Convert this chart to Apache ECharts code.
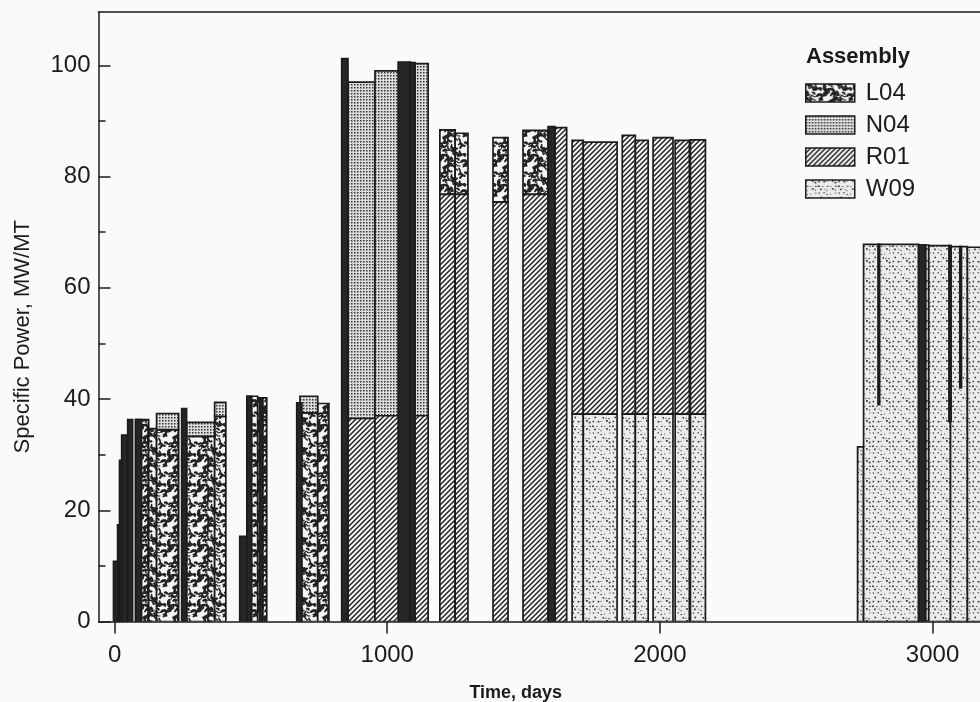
<!DOCTYPE html>
<html>
<head>
<meta charset="utf-8">
<script src="https://cdn.jsdelivr.net/npm/echarts@6/dist/echarts.min.js"></script>
<style>
html,body{margin:0;padding:0;background:#fafafa;}
#c{width:980px;height:702px;}
</style>
</head>
<body>
<div id="c"></div>
<script>
// ---- data: each block = [startDay, endDay, lowValue, highValue] ----
const assemblies = ['L04', 'N04', 'R01', 'W09'];
const xTicks = [0, 1000, 2000, 3000];
const yTicks = [0, 20, 40, 60, 80, 100];
const yMinorTicks = [10, 30, 50, 70, 90];

const L04 = [
  [77, 125, 0, 36.3], [125, 154, 0, 34.7], [154, 235, 0, 34.5],
  [264, 367, 0, 33.3], [367, 408, 0, 36.9], [485, 525, 0, 40.5],
  [525, 558, 0, 40.2], [680, 745, 0, 37.5], [745, 786, 0, 39.2],
  [1193, 1249, 76.8, 88.4], [1249, 1296, 76.8, 87.8], [1388, 1443, 75.4, 87.0],
  [1498, 1590, 76.8, 88.3]
];
const N04 = [
  [154, 235, 34.5, 37.4], [264, 367, 33.3, 35.8], [367, 408, 36.9, 39.4],
  [680, 745, 37.5, 40.5], [856, 955, 36.5, 97.0], [955, 1045, 37.0, 99.0],
  [1102, 1150, 37.0, 100.3]
];
const R01 = [
  [856, 955, 0, 36.5], [955, 1045, 0, 37.0], [1102, 1150, 0, 37.0],
  [1193, 1249, 0, 76.8], [1249, 1296, 0, 76.8], [1388, 1443, 0, 75.4],
  [1498, 1590, 0, 76.8], [1615, 1658, 0, 88.8],
  [1678, 1719, 37.3, 86.5], [1719, 1843, 37.3, 86.2], [1862, 1910, 37.3, 87.4],
  [1910, 1957, 37.3, 86.5], [1975, 2048, 37.3, 87.0], [2056, 2108, 37.3, 86.5],
  [2112, 2167, 37.3, 86.6]
];
const W09 = [
  [1678, 1719, 0, 37.3], [1719, 1843, 0, 37.3], [1862, 1910, 0, 37.3],
  [1910, 1957, 0, 37.3], [1975, 2048, 0, 37.3], [2056, 2108, 0, 37.3],
  [2112, 2167, 0, 37.3],
  [2725, 2747, 0, 31.4], [2747, 2949, 0, 67.8], [2949, 2986, 0, 67.7],
  [2986, 3066, 0, 67.6], [3066, 3128, 0, 67.4], [3128, 3180, 0, 67.3]
];
// short, dense operating intervals drawn as dark strips
const DARK = [
  [-4, 18, 0, 10.8], [11, 26, 0, 17.4], [18, 33, 0, 29.0], [26, 48, 0, 33.5],
  [48, 66, 0, 36.3], [77, 99, 0, 36.3], [246, 264, 0, 38.3], [459, 488, 0, 15.3],
  [485, 503, 0, 40.5], [532, 544, 0, 40.2], [668, 687, 0, 39.3],
  [833, 856, 0, 101.2], [1040, 1085, 0, 100.6], [1085, 1102, 0, 100.5],
  [1590, 1615, 0, 89.0], [2800, 2806, 39.0, 67.8], [2949, 2975, 0, 67.7],
  [3060, 3068, 36.0, 67.6], [3100, 3106, 42.0, 67.4]
];

// ---- fill textures ----
function hash(n) { const s = Math.sin(n * 127.1 + 311.7) * 43758.5453; return s - Math.floor(s); }
function tile(w, h, draw) {
  const c = document.createElement('canvas'); c.width = w; c.height = h;
  const g = c.getContext('2d'); draw(g, w, h); return c;
}
const texL04 = tile(30, 30, function (g, w) {
  g.fillStyle = '#f4f4f4'; g.fillRect(0, 0, w, w);
  g.strokeStyle = '#222'; g.lineCap = 'round';
  for (let i = 0; i < 55; i++) {
    const x = hash(i) * w, y = hash(i + 100) * w, a = hash(i + 200) * Math.PI * 2;
    const len = 2 + hash(i + 300) * 5, lw = 1.1 + hash(i + 400) * 1.5;
    g.lineWidth = lw;
    for (let dx = -w; dx <= w; dx += w) for (let dy = -w; dy <= w; dy += w) {
      g.beginPath(); g.moveTo(x + dx, y + dy);
      g.quadraticCurveTo(x + dx + Math.cos(a + 1) * len * 0.6, y + dy + Math.sin(a + 1) * len * 0.6,
        x + dx + Math.cos(a) * len, y + dy + Math.sin(a) * len);
      g.stroke();
    }
  }
});
const texN04 = tile(3, 3, function (g) {
  g.fillStyle = '#dcdcdc'; g.fillRect(0, 0, 3, 3);
  g.fillStyle = '#333'; g.fillRect(0, 0, 1.5, 1.5);
});
const texR01 = tile(5, 5, function (g) {
  g.fillStyle = '#f4f4f4'; g.fillRect(0, 0, 5, 5);
  g.strokeStyle = '#1e1e1e'; g.lineWidth = 1.4;
  [[0, 5, 5, 0], [-1, 1, 1, -1], [4, 6, 6, 4]].forEach(function (l) {
    g.beginPath(); g.moveTo(l[0], l[1]); g.lineTo(l[2], l[3]); g.stroke();
  });
});
const texW09 = tile(20, 20, function (g, w) {
  g.fillStyle = '#ebebeb'; g.fillRect(0, 0, w, w);
  g.fillStyle = '#2a2a2a';
  for (let i = 0; i < 24; i++) {
    const cx = (i % 5) * 4 + hash(i + 500) * 2.6, cy = Math.floor(i / 5) * 4 + hash(i + 600) * 2.6;
    const s = 0.9 + hash(i + 700) * 0.8;
    g.fillRect(cx % w, cy % w, s, s);
  }
});
function pat(c) { return { image: c, repeat: 'repeat' }; }
const fills = { L04: pat(texL04), N04: pat(texN04), R01: pat(texR01), W09: pat(texW09) };
const INK = '#1b1b1b';
const FONT = "'Liberation Sans', Arial, Helvetica, sans-serif";

function rectRenderer(fill) {
  return function (params, api) {
    const a = api.coord([api.value(0), api.value(3)]);
    const b = api.coord([api.value(1), api.value(2)]);
    return {
      type: 'rect',
      shape: { x: Math.min(a[0], b[0]), y: Math.min(a[1], b[1]), width: Math.abs(b[0] - a[0]), height: Math.abs(b[1] - a[1]) },
      style: { fill: fill, stroke: INK, lineWidth: 1.7 }
    };
  };
}
const seriesData = { L04: L04, N04: N04, R01: R01, W09: W09 };
const series = assemblies.map(function (name) {
  return {
    name: name, type: 'custom', xAxisIndex: 0, yAxisIndex: 0, clip: true,
    renderItem: rectRenderer(fills[name]),
    itemStyle: { color: fills[name], borderColor: INK, borderWidth: 1.5 },
    encode: { x: [0, 1], y: [2, 3] },
    data: seriesData[name]
  };
});
series.push({
  name: 'strips', type: 'custom', xAxisIndex: 0, yAxisIndex: 0, clip: true,
  renderItem: rectRenderer('#262626'),
  encode: { x: [0, 1], y: [2, 3] },
  data: DARK
});

const X_MIN = -59, X_MAX = 3174, Y_MAX = 109.6;
const plain = function (v) { return String(v); };
const chart = echarts.init(document.getElementById('c'), null, { renderer: 'canvas' });
chart.setOption({
  backgroundColor: '#fafafa',
  animation: false,
  textStyle: { fontFamily: FONT, color: INK },
  title: {
    text: 'Assembly', left: 806, top: 46, padding: 0,
    textStyle: { fontFamily: FONT, fontWeight: 'bold', fontSize: 22, color: INK }
  },
  legend: {
    data: assemblies.map(function (n) {
      return { name: n, icon: 'rect', itemStyle: { color: fills[n], borderColor: INK, borderWidth: 1.5 } };
    }),
    orient: 'vertical', left: 805, top: 81, padding: 0,
    itemWidth: 49, itemHeight: 18, itemGap: 8,
    textStyle: { fontFamily: FONT, fontSize: 24, color: INK, padding: [0, 0, 0, 6] },
    selectedMode: false
  },
  grid: [
    { left: 98.5, right: 0, top: 12, bottom: 80.5, outerBoundsMode: 'none', containLabel: false },
    { left: 98.5, right: 0, top: 12, bottom: 80.5, outerBoundsMode: 'none', containLabel: false }
  ],
  xAxis: [
    {
      gridIndex: 0, type: 'value', min: X_MIN, max: X_MAX, position: 'bottom',
      name: 'Time, days', nameLocation: 'middle', nameGap: 63,
      nameTextStyle: { fontFamily: FONT, fontWeight: 'bold', fontSize: 18, color: INK, padding: [0, 47, 0, 0] },
      axisLine: { show: true, onZero: false, lineStyle: { color: INK, width: 1.5 } },
      axisTick: { show: true, customValues: xTicks, length: 12, lineStyle: { color: INK, width: 1.5 } },
      axisLabel: { customValues: xTicks, formatter: plain, fontFamily: FONT, fontSize: 24, color: INK, margin: 22 },
      splitLine: { show: false }
    },
    {
      gridIndex: 1, type: 'value', min: X_MIN, max: X_MAX, position: 'top',
      axisLine: { show: true, onZero: false, lineStyle: { color: INK, width: 1.5 } },
      axisTick: { show: false }, axisLabel: { show: false }, splitLine: { show: false }
    }
  ],
  yAxis: [
    {
      gridIndex: 0, type: 'value', min: 0, max: Y_MAX, position: 'left',
      name: 'Specific Power, MW/MT', nameLocation: 'middle', nameGap: 65,
      nameTextStyle: { fontFamily: FONT, fontSize: 22, color: INK, padding: [0, 40, 0, 0] },
      axisLine: { show: true, onZero: false, lineStyle: { color: INK, width: 1.5 } },
      axisTick: { show: true, inside: true, customValues: yTicks, length: 12, lineStyle: { color: INK, width: 1.5 } },
      axisLabel: { customValues: yTicks, formatter: plain, fontFamily: FONT, fontSize: 24, color: INK, margin: 8 },
      splitLine: { show: false }
    },
    {
      gridIndex: 1, type: 'value', min: 0, max: Y_MAX, position: 'left',
      axisLine: { show: false, onZero: false },
      axisTick: { show: true, inside: true, customValues: yMinorTicks, length: 7, lineStyle: { color: INK, width: 1.5 } },
      axisLabel: { show: false }, splitLine: { show: false }
    }
  ],
  series: series
});
</script>
</body>
</html>
